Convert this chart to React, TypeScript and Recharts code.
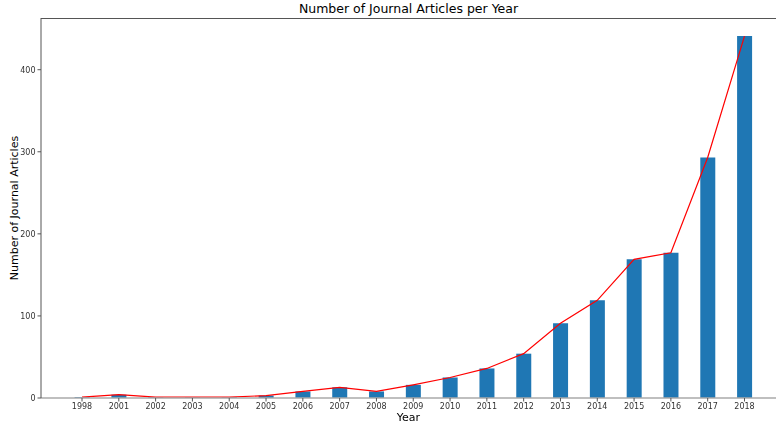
import { ComposedChart, Bar, Line, XAxis, YAxis } from 'recharts'

const YEARS = ['1998', '2001', '2002', '2003', '2004', '2005', '2006', '2007', '2008', '2009', '2010', '2011', '2012', '2013', '2014', '2015', '2016', '2017', '2018']
const ARTICLES = [1, 4, 1, 1, 1, 3, 8, 13, 8, 16, 25, 36, 54, 91, 119, 169, 177, 293, 441]
const Y_TICKS = [0, 100, 200, 300, 400]

const chartData = YEARS.map((year, i) => ({ idx: i, year, count: ARTICLES[i] }))

const FONT = '"DejaVu Sans", sans-serif'

export default function App() {
  return (
    <div style={{ position: 'fixed', left: 0, top: 0, width: 776, height: 423, background: '#fff', fontFamily: FONT }}>
      <div style={{ position: 'absolute', left: 41, right: 0, top: 1, textAlign: 'center', fontSize: 12.5, color: '#000' }}>
        Number of Journal Articles per Year
      </div>
      <div style={{ position: 'absolute', left: 41, width: 735, top: 18, height: 1, background: '#555' }} />
      <div
        style={{
          position: 'absolute',
          left: 14,
          top: 208,
          transform: 'translate(-50%, -50%) rotate(-90deg)',
          whiteSpace: 'nowrap',
          fontSize: 11,
          color: '#000',
        }}
      >
        Number of Journal Articles
      </div>
      <div style={{ position: 'absolute', left: 41, width: 735, top: 411.5, lineHeight: '11px', textAlign: 'center', fontSize: 11, color: '#000' }}>
        Year
      </div>
      <ComposedChart
        width={776}
        height={423}
        data={chartData}
        margin={{ top: 18, right: 0, left: 0, bottom: 0 }}
        style={{ position: 'absolute', left: 0, top: 0 }}
      >
        <XAxis
          dataKey="idx"
          type="number"
          domain={[-1.114, 18.856]}
          ticks={chartData.map((d) => d.idx)}
          tickFormatter={(v: number) => YEARS[v]}
          interval={0}
          height={25}
          tickSize={3.5}
          tickMargin={1.5}
          tick={{ fontSize: 8, fill: '#333', fontFamily: FONT }}
          axisLine={{ stroke: '#aaa', strokeWidth: 1.5 }}
          tickLine={{ stroke: '#555' }}
          allowDataOverflow
        />
        <YAxis
          type="number"
          domain={[0, 463]}
          ticks={Y_TICKS}
          width={41}
          tickSize={3.5}
          tick={{ fontSize: 8, fill: '#333', fontFamily: FONT }}
          axisLine={{ stroke: '#555' }}
          tickLine={{ stroke: '#555' }}
          allowDataOverflow
        />
        <Bar dataKey="count" fill="#1f77b4" barSize={15} isAnimationActive={false} />
        <Line
          dataKey="count"
          type="linear"
          stroke="#ff0000"
          strokeWidth={1.2}
          dot={false}
          activeDot={false}
          isAnimationActive={false}
        />
      </ComposedChart>
    </div>
  )
}
